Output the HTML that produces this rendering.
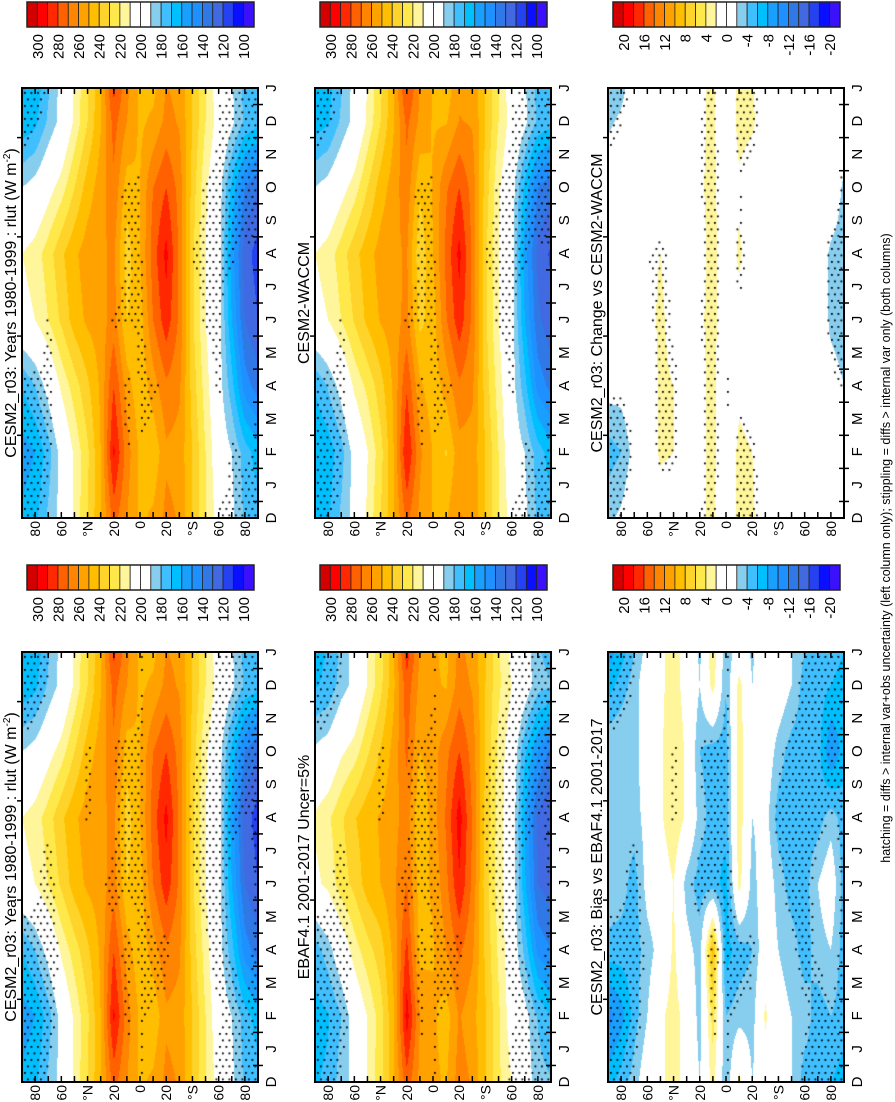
<!DOCTYPE html>
<html><head><meta charset="utf-8"><style>
html,body{margin:0;padding:0;background:#fff;}
#wrap{position:relative;width:895px;height:1102px;overflow:hidden;font-family:"Liberation Sans",sans-serif;}
canvas{position:absolute;}
svg{position:absolute;left:0;top:0;}
</style></head><body>
<div id="wrap">
<svg id="ov" width="895" height="1102"></svg>
</div>
<script>
// ---- data: latitude rows 90N..90S (step 10), time columns D,F,A,J,A,O,D ----
const latitudes = [90,80,70,60,50,40,30,20,10,0,-10,-20,-30,-40,-50,-60,-70,-80,-90];
const gridMonths = [0,2,4,6,8,10,12];
const monthLabels = ['D','J','F','M','A','M','J','J','A','S','O','N','D','J'];
const latTickLabels = ['80','60','°N','20','0','20','°S','60','80'];
const latTickValues = [80,60,40,20,0,-20,-40,-60,-80];
const absLevelLabels = ['300','280','260','240','220','200','180','160','140','120','100'];
const diffLevelLabels = ['20','16','12','8','4','0','-4','-8','-12','-16','-20'];
const cesm2Rlut = [
[162,155,170,205,210,190,162],
[167,160,180,210,215,195,167],
[182,175,195,220,225,205,182],
[194,195,212,232,238,215,194],
[212,212,225,245,248,230,212],
[230,228,238,252,255,245,230],
[249,250,252,255,258,255,249],
[274,292,280,265,262,268,274],
[260,265,255,240,235,245,260],
[248,248,242,245,250,250,248],
[252,242,255,270,275,270,252],
[263,258,268,286,293,280,263],
[259,256,262,268,268,266,259],
[240,240,236,232,232,236,240],
[220,220,215,210,210,212,220],
[205,200,196,196,196,197,205],
[193,190,174,160,155,167,193],
[178,175,145,130,125,140,178],
[174,165,135,120,115,130,174]];
const biasVsEbaf = [
[-7,-11,-5,-2,-2,-2,-7],
[-5,-9,-5,-3,-3,-2,-5],
[-3,-5,-5,-5,-3,-3,-3],
[0,-2,-3,-1,-1,0,0],
[1.5,1.5,-1,0,1.5,1.5,1.5],
[3,3,2.5,2,4,4,3],
[1,1,-1,-3,1.5,1.5,1],
[-2,-3,-3,-5,-3,-4,-2],
[3,5,9,-5,-5,-5,3],
[-4,-4,-7,-7,-5,-5,-4],
[3,-3,-5,3,3.5,3,3],
[-2,-3,-4,-3,-2,0,-2],
[0,2.5,0,0,-1,0,0],
[0,-1,-2,-3,-5,-3,0],
[-2,-2,-3,-5,-5,-5,-2],
[-5,-3,-5,-5,-5,-5,-5],
[-5,-5,-3,-2,-5,-5,-5],
[-6,-4,-2,0,-3,-10,-6],
[-7,-5,-5,-5,-5,-7,-7]];
const changeVsWaccm = [
[-2.5,-5,-1,0,0,0,-2.5],
[-1.5,-4,-1,0,0,0,-1.5],
[0,-1,0,0,0,0,0],
[0,0,0,1,1.5,0,0],
[0,2.5,2.5,2.5,2,0,0],
[0,2,2,1,1,0,0],
[0,0,0,0,0,0,0],
[1.5,1,1,1.5,1,1.5,1.5],
[2.5,3,3,3,3,3,2.5],
[-1,-1.5,-2,0,0,-1,-1],
[3,3,1,1,2.5,1.5,3],
[2.5,2,0,0,0,0,2.5],
[0,0,0,0,0,0,0],
[0,0,0,0,0,0,0],
[0,0,0,0,0,0,0],
[0,0,0,0,0,0,0],
[0,0,0,0,0,0,0],
[0,0,-1,-2.5,-2.5,0,0],
[0,0,-2,-3,-3,-2.5,0]];
const waccmRlut = cesm2Rlut.map((r,i)=>r.map((v,j)=>v-changeVsWaccm[i][j]));
const ebafRlut = cesm2Rlut.map((r,i)=>r.map((v,j)=>v-biasVsEbaf[i][j]));

const COLORS=['#d40000','#ff0000','#ff2800','#ff6000','#ff8400','#ffa200','#ffbf00','#ffd42a','#ffe84a','#fff59a','#ffffff','#ffffff','#87cdee','#40bfff','#00bfff','#19a0ff','#1e90ff','#3078e6','#4169e1','#2641f0','#0a10ff','#3a10ff'];

const NS='http://www.w3.org/2000/svg';
const ov=document.getElementById('ov');
function el(tag,attrs,parent){const e=document.createElementNS(NS,tag);for(const k in attrs)e.setAttribute(k,attrs[k]);(parent||ov).appendChild(e);return e;}
function vtext(x,y,str,size,anchor,name){const t=el('text',{x:0,y:0,transform:`translate(${x},${y}) rotate(-90)`,'font-size':size,'text-anchor':anchor,fill:'#000'});t.textContent=str;return t;}

function col(j){return j<=6?j:j-6;}
function sample(grid,lat,t){
  let f=(90-lat)/10; f=Math.max(0,Math.min(18,f));
  let g=Math.max(0,t)/2;
  const i0=Math.min(17,Math.floor(f)), fi=f-i0;
  const j0=Math.min(6,Math.floor(g)), fj=g-j0;
  const ja=col(j0), jb=col(j0+1);
  const a=grid[i0][ja],b=grid[i0][jb],c=grid[i0+1][ja],d=grid[i0+1][jb];
  return (a*(1-fj)+b*fj)*(1-fi)+(c*(1-fj)+d*fj)*fi;
}
function absBox(v){return Math.max(0,Math.min(21,Math.floor((310-v)/10)));}
function diffBox(v){return Math.max(0,Math.min(21,Math.floor((22-v)/2)));}

const colX=[22,315,608]; const PW=236;
const rowY=[88,652]; const PH=430;

function panel(px,py,grid,isDiff,stipGrid,stipThr,title,name){
  const cv=document.createElement('canvas');cv.width=PW;cv.height=PH;
  cv.style.left=px+'px';cv.style.top=py+'px';
  
  
  document.getElementById('wrap').insertBefore(cv,ov);
  const ctx=cv.getContext('2d');
  const img=ctx.createImageData(PW,PH);
  const rgb=COLORS.map(c=>[parseInt(c.substr(1,2),16),parseInt(c.substr(3,2),16),parseInt(c.substr(5,2),16)]);
  for(let y=0;y<PH;y++){const t=(PH-y)/PH*13;
    for(let x=0;x<PW;x++){const lat=90-(x+0.5)/PW*180;
      const v=sample(grid,lat,t);const k=isDiff?diffBox(v):absBox(v);const c=rgb[k];
      const o=(y*PW+x)*4;img.data[o]=c[0];img.data[o+1]=c[1];img.data[o+2]=c[2];img.data[o+3]=255;}}
  ctx.putImageData(img,0,0);
  ctx.fillStyle='#000';
  for(let y=4,r=0;y<PH-2;y+=6.5,r++){for(let x=(r%2?5:2);x<PW-2;x+=6.5){
    const lat=90-x/PW*180,t=(PH-y)/PH*13;
    if(Math.abs(sample(stipGrid,lat,t))>stipThr)ctx.fillRect(x,y,1.8,1.8);}}
  const g=el('g',{});
  el('rect',{x:px,y:py,width:PW,height:PH,fill:'none',stroke:'#000','stroke-width':2},g);
  const xOf=lat=>px+(90-lat)/180*PW;
  const yOf=m=>py+PH-m/13*PH;
  for(let lat=80;lat>=-80;lat-=10){const x=xOf(lat);
    el('line',{x1:x,y1:py,x2:x,y2:py+6,stroke:'#000','stroke-width':1.5},g);
    el('line',{x1:x,y1:py+PH,x2:x,y2:py+PH-6,stroke:'#000','stroke-width':1.5},g);}
  latTickValues.forEach((lv,i)=>{vtext(xOf(lv)+5,py+PH+3,latTickLabels[i],14,'end','lat-label');});
  monthLabels.forEach((m,i)=>{const y=yOf(i);
    vtext(px+PW+18,y,m,15,'middle','month-label');
    if(i<13){const yh=yOf(i+0.5);
      el('line',{x1:px+PW,y1:yh,x2:px+PW-5,y2:yh,stroke:'#000','stroke-width':1.5},g);
      el('line',{x1:px+PW,y1:yh,x2:px+PW+5,y2:yh,stroke:'#000','stroke-width':1.5},g);
      if(i%3===2)el('line',{x1:px,y1:yh,x2:px-5,y2:yh,stroke:'#000','stroke-width':1.5},g);}});
  const tt=vtext(px-6,py+PH/2,title.main,16,'middle','panel-title');
  if(title.sup){const s=document.createElementNS(NS,'tspan');s.setAttribute('font-size',10);s.setAttribute('dy',-6);s.textContent=title.sup;tt.appendChild(s);
    const s2=document.createElementNS(NS,'tspan');s2.setAttribute('dy',6);s2.textContent=')';tt.appendChild(s2);}
}
function colorbar(x0,y0,labels,name){
  const g=el('g',{});
  const bw=227/22;
  COLORS.forEach((c,i)=>{el('rect',{x:x0+i*bw,y:y0,width:bw,height:25,fill:c,stroke:'#222','stroke-width':0.8},g);});
  el('rect',{x:x0,y:y0,width:227,height:25,fill:'none',stroke:'#222','stroke-width':1.5},g);
  labels.forEach((l,i)=>{vtext(x0+(2*i+1)*bw+5.5,y0+32,l,15,'end','colorbar-label');});
}
panel(colX[0],rowY[0],cesm2Rlut,false,biasVsEbaf,4.5,{main:'CESM2_r03: Years 1980-1999 : rlut (W m',sup:'-2'},'panel-cesm2-top');
panel(colX[1],rowY[0],waccmRlut,false,biasVsEbaf,4.5,{main:'CESM2-WACCM'},'panel-waccm');
panel(colX[2],rowY[0],changeVsWaccm,true,changeVsWaccm,1.5,{main:'CESM2_r03: Change vs CESM2-WACCM'},'panel-change');
panel(colX[0],rowY[1],cesm2Rlut,false,biasVsEbaf,3.5,{main:'CESM2_r03: Years 1980-1999 : rlut (W m',sup:'-2'},'panel-cesm2-bottom');
panel(colX[1],rowY[1],ebafRlut,false,biasVsEbaf,3.5,{main:'EBAF4.1 2001-2017 Uncer=5%'},'panel-ebaf');
panel(colX[2],rowY[1],biasVsEbaf,true,biasVsEbaf,3.5,{main:'CESM2_r03: Bias vs EBAF4.1 2001-2017'},'panel-bias');
colorbar(27,2,absLevelLabels,'colorbar-cesm2-top');
colorbar(320,2,absLevelLabels,'colorbar-waccm');
colorbar(613,2,diffLevelLabels,'colorbar-change');
colorbar(27,565,absLevelLabels,'colorbar-cesm2-bottom');
colorbar(320,565,absLevelLabels,'colorbar-ebaf');
colorbar(613,565,diffLevelLabels,'colorbar-bias');
vtext(890,548,'hatching = diffs > internal var+obs uncertainty (left column only); stippling = diffs > internal var only (both columns)',12.5,'middle','footnote');
</script>
</body></html>
